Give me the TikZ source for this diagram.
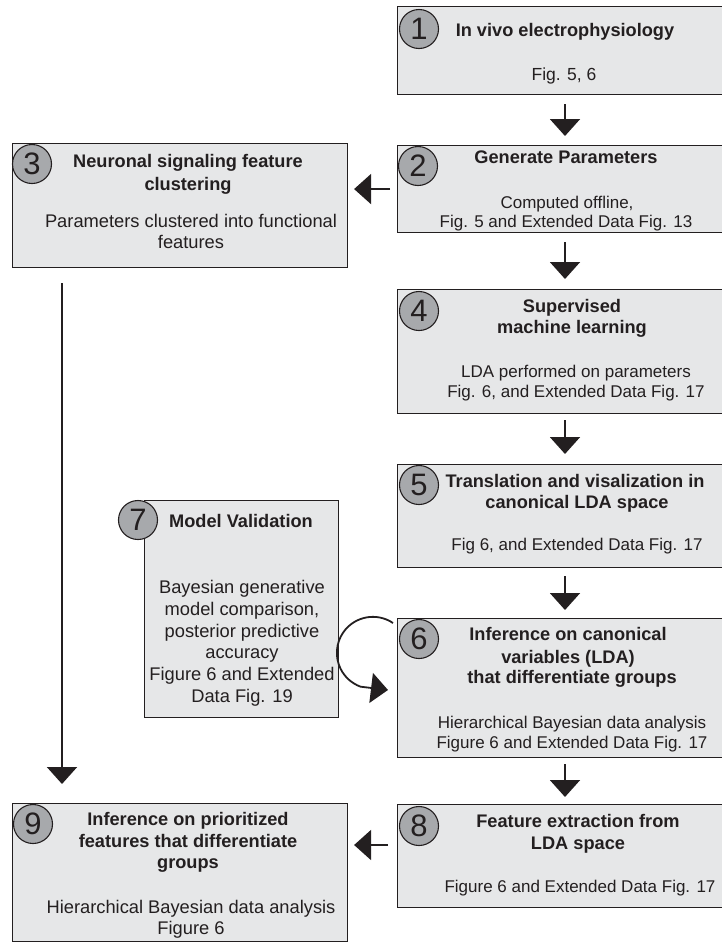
\documentclass[tikz,border=0pt]{standalone}
\usepackage{fontspec}
\setmainfont{Liberation Sans}
\usetikzlibrary{arrows.meta,calc}
\definecolor{boxfill}{HTML}{E6E7E8}
\definecolor{ink}{HTML}{231F20}
\definecolor{numfill}{HTML}{A7A9AC}
\tikzset{
  box/.style={draw=ink, line width=1.1pt, fill=boxfill, anchor=north west, inner sep=0pt},
  num/.style={circle, draw=ink, line width=1.1pt, fill=numfill, minimum size=39pt, inner sep=0pt, font=\fontsize{31}{31}\selectfont, text=ink},
  ttl/.style={anchor=base, inner sep=0pt, font=\fontsize{18.2}{22}\selectfont\bfseries, text=ink},
  txs/.style={anchor=base, inner sep=0pt, font=\fontsize{17}{21}\selectfont, text=ink},
  txl/.style={anchor=base, inner sep=0pt, font=\fontsize{18.3}{22}\selectfont, text=ink},
  arr/.style={draw=ink, line width=2pt, -{Triangle[width=30pt,length=17pt]}},
}
\begin{document}
\begin{tikzpicture}[x=1pt,y=-1pt]
\useasboundingbox (0,0) rectangle (722,943);
\clip (0,0) rectangle (722,943);

% boxes
\node[box, minimum width=338pt, minimum height=88pt]  (b1) at (397,6) {};
\node[box, minimum width=338pt, minimum height=87pt]  (b2) at (397,145) {};
\node[box, minimum width=335pt, minimum height=124pt] (b3) at (12,143) {};
\node[box, minimum width=338pt, minimum height=124pt] (b4) at (397,289) {};
\node[box, minimum width=338pt, minimum height=103pt] (b5) at (397,464) {};
\node[box, minimum width=338pt, minimum height=139pt] (b6) at (397,618) {};
\node[box, minimum width=194pt, minimum height=217pt] (b7) at (144,500) {};
\node[box, minimum width=338pt, minimum height=103pt] (b8) at (397,804) {};
\node[box, minimum width=335pt, minimum height=138pt] (b9) at (12,803) {};

% number circles
\node[num] (c1) at (419,29) {1};
\node[num] (c2) at (418,166) {2};
\node[num] (c3) at (32,164) {3};
\node[num] (c4) at (419,311) {4};
\node[num] (c5) at (419,485) {5};
\node[num] (c6) at (419,639) {6};
\node[num] (c7) at (138,520) {7};
\node[num] (c8) at (419,826) {8};
\node[num] (c9) at (33,824) {9};

% box 1
\node[ttl] (t1a) at (565,36) {In vivo electrophysiology};
\node[txs, font=\fontsize{17.5}{21}\selectfont] (t1b) at (564,80) {Fig. 5, 6};
% box 2
\node[ttl] (t2a) at (566,163) {Generate Parameters};
\node[txs] (t2b) at (567,208) {Computed offline,};
\node[txs] (t2c) at (566,227) {Fig. 5 and Extended Data Fig. 13};
% box 3
\node[ttl] (t3a) at (188,167) {Neuronal signaling feature};
\node[ttl] (t3b) at (188,190) {clustering};
\node[txl] (t3c) at (191,227) {Parameters clustered into functional};
\node[txl] (t3d) at (191,248) {features};
% box 4
\node[ttl] (t4a) at (572,312) {Supervised};
\node[ttl] (t4b) at (572,333) {machine learning};
\node[txs] (t4c) at (576,377) {LDA performed on parameters};
\node[txs] (t4d) at (576,397) {Fig. 6, and Extended Data Fig. 17};
% box 5
\node[ttl] (t5a) at (575,487) {Translation and visalization in};
\node[ttl] (t5b) at (577,508) {canonical LDA space};
\node[txs] (t5c) at (577,550) {Fig 6, and Extended Data Fig. 17};
% box 6
\node[ttl] (t6a) at (568,640) {Inference on canonical};
\node[ttl] (t6b) at (568,663) {variables (LDA)};
\node[ttl] (t6c) at (572,683) {that differentiate groups};
\node[txs] (t6d) at (572,728) {Hierarchical Bayesian data analysis};
\node[txs] (t6e) at (572,748) {Figure 6 and Extended Data Fig. 17};
% box 7
\node[ttl] (t7a) at (241,527) {Model Validation};
\node[txl] (t7b) at (242,593) {Bayesian generative};
\node[txl] (t7c) at (242,615) {model comparison,};
\node[txl] (t7d) at (242,637) {posterior predictive};
\node[txl] (t7e) at (242,658) {accuracy};
\node[txl] (t7f) at (242,680) {Figure 6 and Extended};
\node[txl] (t7g) at (242,702) {Data Fig. 19};
% box 8
\node[ttl] (t8a) at (578,827) {Feature extraction from};
\node[ttl] (t8b) at (578,849) {LDA space};
\node[txs] (t8c) at (580,892) {Figure 6 and Extended Data Fig. 17};
% box 9
\node[ttl] (t9a) at (188,825) {Inference on prioritized};
\node[ttl] (t9b) at (188,847) {features that differentiate};
\node[ttl] (t9c) at (188,868) {groups};
\node[txl] (t9d) at (191,913) {Hierarchical Bayesian data analysis};
\node[txl] (t9e) at (191,934) {Figure 6};

% connectors
\coordinate (colR) at (565,0);
\coordinate (colL) at (62,0);
\coordinate (h89) at (0,845);
\draw[arr, shorten <=9pt, shorten >=9pt] (b1.south -| colR) -- (b2.north -| colR);
\draw[arr, shorten <=9pt, shorten >=10pt] (b2.south -| colR) -- (b4.north -| colR);
\draw[arr, shorten <=6pt, shorten >=10pt] (b4.south -| colR) -- (b5.north -| colR);
\draw[arr, shorten <=8pt, shorten >=8pt] (b5.south -| colR) -- (b6.north -| colR);
\draw[arr, shorten <=6pt, shorten >=7pt] (b6.south -| colR) -- (b8.north -| colR);
\draw[arr, shorten <=7pt, shorten >=6pt] (b2.west) -- (b2.west -| b3.east);
\draw[arr, shorten <=9pt, shorten >=6pt] (b8.west |- h89) -- (b9.east |- h89);
\draw[arr, shorten <=15pt, shorten >=19pt] (b3.south -| colL) -- (b9.north -| colL);
% loop arrow beside box 7 back into box 6
\coordinate (cs) at ($(b6.north west)+(-4,5)$);
\coordinate (ce) at ($(b6.north west)+(-9,72)$);
\draw[arr, line width=1.8pt] (cs) arc[start angle=-56, end angle=-250, radius=36] -- (ce);
\end{tikzpicture}
\end{document}
